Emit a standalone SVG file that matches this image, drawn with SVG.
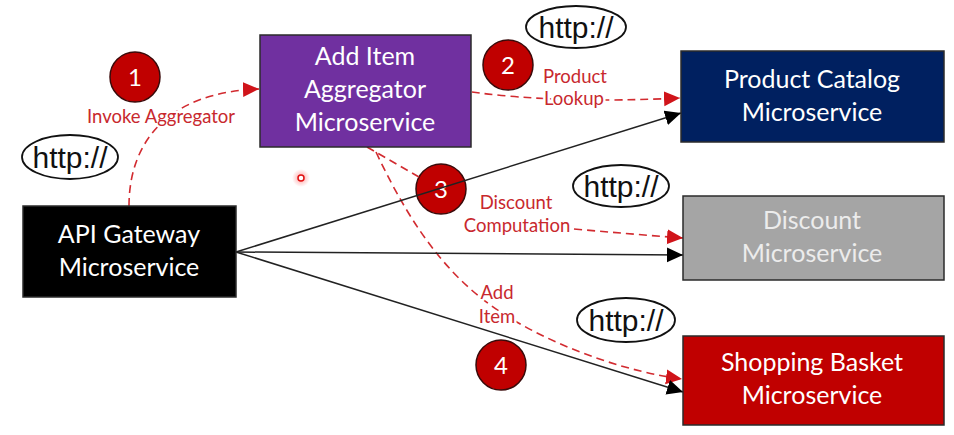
<svg xmlns="http://www.w3.org/2000/svg" width="954" height="435" viewBox="0 0 954 435">
<defs>
<style>
.node rect{stroke:#2b2b2b;stroke-width:1.5}
.ntxt{font-family:Lato,"Liberation Sans",sans-serif;font-size:25px;fill:#ffffff;text-anchor:middle}
.lbl{font-family:Lato,"Liberation Sans",sans-serif;font-size:18.5px;fill:#c8282e;text-anchor:middle;paint-order:stroke;stroke:#ffffff;stroke-width:5px;stroke-linejoin:round}
.badge circle{fill:#c00000;stroke:#3a0a0a;stroke-width:1.5}
.badge text{font-family:Lato,"Liberation Sans",sans-serif;font-size:24px;fill:#ffffff;text-anchor:middle}
.http ellipse{fill:#ffffff;stroke:#111111;stroke-width:1.8}
.http text{font-family:"Liberation Sans",Arial,sans-serif;font-size:30px;fill:#111111;text-anchor:middle}
.red{fill:none;stroke:#d22b30;stroke-width:1.6;stroke-dasharray:8 5}
.blk{fill:none;stroke:#222222;stroke-width:1.5}
</style>
<marker id="ar" markerUnits="userSpaceOnUse" markerWidth="18" markerHeight="16" refX="16" refY="7.5" orient="auto">
<path d="M0,0 L16,7.5 L0,15 z" fill="#d0141a"/>
</marker>
<marker id="ab" markerUnits="userSpaceOnUse" markerWidth="18" markerHeight="16" refX="16" refY="7.5" orient="auto">
<path d="M0,0 L16,7.5 L0,15 z" fill="#000000"/>
</marker>
<radialGradient id="glow">
<stop offset="0" stop-color="#ff4040" stop-opacity="0.5"/>
<stop offset="1" stop-color="#ff4040" stop-opacity="0"/>
</radialGradient>
</defs>
<rect width="954" height="435" fill="#ffffff"/>

<g id="badges" class="badge">
<g id="badge-1"><circle cx="135" cy="77" r="25"/><text x="135" y="86">1</text></g>
<g id="badge-2"><circle cx="508" cy="65" r="25"/><text x="508" y="74">2</text></g>
<g id="badge-3"><circle cx="441" cy="189" r="25"/><text x="441" y="198">3</text></g>
<g id="badge-4"><circle cx="501" cy="365" r="25"/><text x="501" y="374">4</text></g>
</g>

<g id="connectors">
<path class="red" d="M129,206 C129,140 170,92 259,89" marker-end="url(#ar)"/>
<path class="red" d="M472,92 Q560,104 680,98" marker-end="url(#ar)"/>
<path class="red" d="M367,147 L419,177 M574,229 Q630,234 683,238" marker-end="url(#ar)"/>
<path class="red" d="M376,152 C415,235 455,285 510,318 S630,372 682,379" marker-end="url(#ar)"/>
<path class="blk" d="M236,252 L681,113" marker-end="url(#ab)"/>
<path class="blk" d="M236,252 L683,255" marker-end="url(#ab)"/>
<path class="blk" d="M236,252 L683,392" marker-end="url(#ab)"/>
<text class="lbl" x="161" y="123">Invoke Aggregator</text>
<text class="lbl" x="575" y="83">Product</text>
<text class="lbl" x="574" y="105">Lookup</text>
<text class="lbl" x="516" y="209">Discount</text>
<text class="lbl" x="517" y="232">Computation</text>
<text class="lbl" x="497" y="299">Add</text>
<text class="lbl" x="497" y="323">Item</text>
</g>

<g id="http-tags" class="http">
<g id="http-1"><ellipse cx="70" cy="157" rx="48" ry="22"/><text x="70" y="168">http://</text></g>
<g id="http-2"><ellipse cx="576" cy="27" rx="50" ry="21"/><text x="576" y="38">http://</text></g>
<g id="http-3"><ellipse cx="621" cy="186" rx="48" ry="21"/><text x="621" y="197">http://</text></g>
<g id="http-4"><ellipse cx="626" cy="320" rx="49" ry="22"/><text x="626" y="331">http://</text></g>
</g>

<g id="aggregator" class="node">
<rect x="260" y="35" width="211" height="112" fill="#7030a0"/>
<text class="ntxt" x="365" y="65">Add Item</text>
<text class="ntxt" x="365" y="98">Aggregator</text>
<text class="ntxt" x="365" y="131">Microservice</text>
</g>
<g id="api-gateway" class="node">
<rect x="23" y="206" width="213" height="91" fill="#000000"/>
<text class="ntxt" x="129" y="243">API Gateway</text>
<text class="ntxt" x="129" y="276">Microservice</text>
</g>
<g id="product-catalog" class="node">
<rect x="681" y="51" width="263" height="91" fill="#002060"/>
<text class="ntxt" x="812" y="88">Product Catalog</text>
<text class="ntxt" x="812" y="121">Microservice</text>
</g>
<g id="discount" class="node">
<rect x="683" y="196" width="261" height="84" fill="#a5a5a5"/>
<text class="ntxt" x="812" y="229" style="fill:#ececec">Discount</text>
<text class="ntxt" x="812" y="262" style="fill:#ececec">Microservice</text>
</g>
<g id="shopping-basket" class="node">
<rect x="683" y="336" width="261" height="89" fill="#c00000"/>
<text class="ntxt" x="812" y="371">Shopping Basket</text>
<text class="ntxt" x="812" y="404">Microservice</text>
</g>

<g id="pointer">
<circle cx="301" cy="178" r="9" fill="url(#glow)"/>
<circle cx="301" cy="178" r="3" fill="#ffffff" stroke="#e01010" stroke-width="1.5"/>
</g>
</svg>
